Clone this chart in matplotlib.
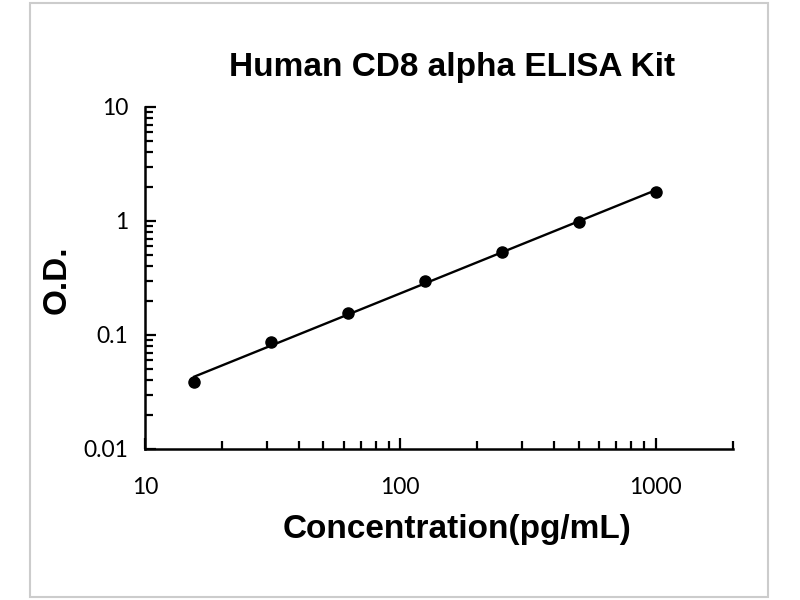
import numpy as np
import matplotlib
matplotlib.use("Agg")
import matplotlib.pyplot as plt
from matplotlib.patches import Rectangle

# standard curve values
conc = [15.6, 31.25, 62.5, 125, 250, 500, 1000]
od = [0.039, 0.086, 0.157, 0.299, 0.531, 0.975, 1.81]

title = "Human CD8 alpha ELISA Kit"
xlabel = "Concentration(pg/mL)"
ylabel = "O.D."

fig = plt.figure(figsize=(8, 6), dpi=100)
ax = fig.add_axes([0.181, 0.2517, 0.735, 0.570])

# power trend line (straight in log-log)
k, b = np.polyfit(np.log10(conc), np.log10(od), 1)
xs = np.logspace(np.log10(conc[0]), np.log10(conc[-1]), 50)
ax.plot(xs, 10 ** (k * np.log10(xs) + b), color="black", lw=1.7, zorder=2)
ax.plot(conc, od, "o", color="black", ms=8, zorder=3)

ax.set_xscale("log")
ax.set_yscale("log")
ax.set_xlim(10, 2000)
ax.set_ylim(0.01, 10)

ax.set_xticks([10, 100, 1000])
ax.set_xticklabels(["10", "100", "1000"])
ax.set_yticks([0.01, 0.1, 1, 10])
ax.set_yticklabels(["0.01", "0.1", "1", "10"])

for s in ["top", "right"]:
    ax.spines[s].set_visible(False)
for s in ["left", "bottom"]:
    ax.spines[s].set_linewidth(1.8)

ax.tick_params(which="major", direction="in", length=8, width=1.6, labelsize=16.5)
ax.tick_params(which="minor", direction="in", length=6, width=1.6)
ax.tick_params(axis="x", which="major", pad=20)
ax.tick_params(axis="y", which="major", pad=12)
for lab in ax.get_xticklabels() + ax.get_yticklabels():
    lab.set_family("Lato")

fig.text(0.565, 0.887, title, ha="center", va="center", fontsize=24,
         fontweight="bold", family="Liberation Sans")
fig.text(0.571, 0.117, xlabel, ha="center", va="center", fontsize=24,
         fontweight="bold", family="Liberation Sans")
fig.text(0.071, 0.533, ylabel, ha="center", va="center", fontsize=24,
         fontweight="bold", family="Liberation Sans", rotation=90)

# light frame around the picture
fig.patches.append(Rectangle((0.037, 0.005), 0.923, 0.99, transform=fig.transFigure,
                             fill=False, edgecolor="#cccccc", lw=1.5))

fig.savefig("out.png", dpi=100)
